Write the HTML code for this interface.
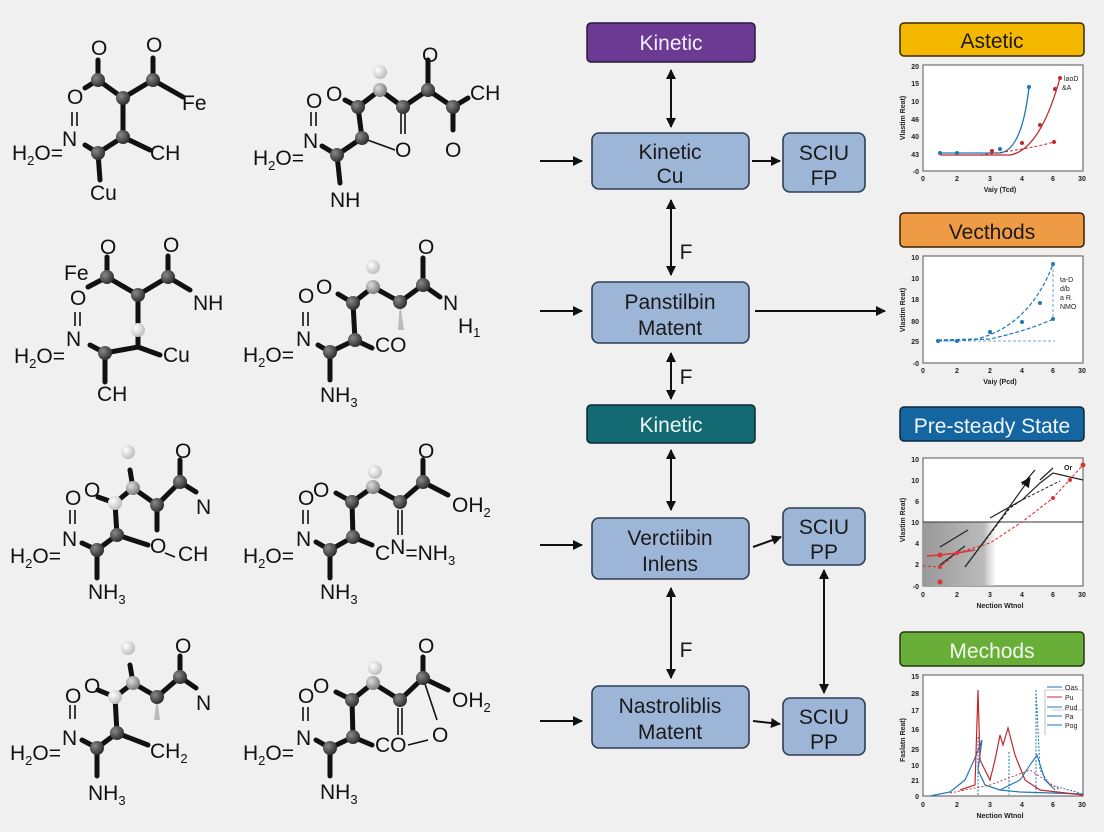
<!DOCTYPE html>
<html><head><meta charset="utf-8"><style>
html,body{margin:0;padding:0;background:#f0f0f0;}
svg{display:block;}
.t{font-family:"Liberation Sans",sans-serif;font-size:21px;fill:#111;}
.s{font-size:13px;}
.bd{stroke:#111;stroke-width:5;stroke-linecap:round;fill:none;}
.thin{stroke:#111;stroke-width:1.6;fill:none;}
.bx{fill:#9db6d8;stroke:#2f3f55;stroke-width:1.6;}
.bt{font-family:"Liberation Sans","DejaVu Sans",sans-serif;font-size:21px;fill:#1a1a1a;text-anchor:middle;}
.ar{stroke:#111;stroke-width:2;fill:none;}
.ax{font-family:"Liberation Sans",sans-serif;font-size:7px;fill:#222;font-weight:bold;}
</style></head><body>
<svg width="1104" height="832" viewBox="0 0 1104 832" xmlns="http://www.w3.org/2000/svg">
<defs>
<radialGradient id="g" cx="0.35" cy="0.35" r="0.7"><stop offset="0" stop-color="#888"/><stop offset="1" stop-color="#2a2a2a"/></radialGradient>
<radialGradient id="w" cx="0.35" cy="0.35" r="0.7"><stop offset="0" stop-color="#fff"/><stop offset="1" stop-color="#bbb"/></radialGradient>
<radialGradient id="l" cx="0.35" cy="0.35" r="0.7"><stop offset="0" stop-color="#ddd"/><stop offset="1" stop-color="#777"/></radialGradient>
<marker id="a" markerWidth="10" markerHeight="10" refX="9" refY="5" orient="auto" markerUnits="userSpaceOnUse"><path d="M0,0 L10,5 L0,10 z" fill="#111"/></marker>
<marker id="as" markerWidth="10" markerHeight="10" refX="1" refY="5" orient="auto" markerUnits="userSpaceOnUse"><path d="M10,0 L0,5 L10,10 z" fill="#111"/></marker>
<linearGradient id="sh" x1="0" x2="1"><stop offset="0" stop-color="#999"/><stop offset="0.85" stop-color="#bbb"/><stop offset="1" stop-color="#ddd" stop-opacity="0.3"/></linearGradient>
</defs>
<rect width="1104" height="832" fill="#f0f0f0"/>

<!-- M1 -->
<g>
<path class="bd" d="M98,80 L123,98 L153,80 L183,97 M123,98 L123,137 L98,153 L85,145 M123,137 L150,150 M98,80 L85,88 M153,80 L153,58 M98,80 L98,60 M98,153 L100,180"/>
<path class="thin" d="M72,112 V126 M77,112 V126"/>
<circle cx="98" cy="80" r="7" fill="url(#g)"/><circle cx="123" cy="98" r="7" fill="url(#g)"/><circle cx="153" cy="80" r="7" fill="url(#g)"/><circle cx="123" cy="137" r="7" fill="url(#g)"/><circle cx="98" cy="153" r="7" fill="url(#g)"/>
<text class="t" x="91" y="55">O</text><text class="t" x="146" y="52">O</text><text class="t" x="182" y="110">Fe</text>
<text class="t" x="67" y="104">O</text><text class="t" x="62" y="146">N</text>
<text class="t" x="12" y="160">H<tspan class="s" dy="5">2</tspan><tspan dy="-5">O=</tspan></text>
<text class="t" x="150" y="160">CH</text><text class="t" x="90" y="200">Cu</text>
</g>
<!-- M2 -->
<g>
<path class="bd" d="M337,155 L362,138 L358,107 L380,90 L403,107 L428,90 L453,107 L468,98 M358,107 L345,100 M428,90 L428,60 M337,155 L322,146 M337,155 L340,183 M453,107 L453,130"/>
<path class="thin" d="M362,138 L395,150 M401,112 V134 M405,112 V134 M311,112 V126 M316,112 V126"/>
<circle cx="380" cy="72" r="7" fill="url(#w)"/>
<circle cx="358" cy="107" r="7" fill="url(#g)"/><circle cx="380" cy="90" r="7" fill="url(#l)"/><circle cx="403" cy="107" r="7" fill="url(#g)"/><circle cx="428" cy="90" r="7" fill="url(#g)"/><circle cx="453" cy="107" r="7" fill="url(#g)"/><circle cx="362" cy="138" r="7" fill="url(#g)"/><circle cx="337" cy="155" r="7" fill="url(#g)"/>
<text class="t" x="422" y="62">O</text><text class="t" x="470" y="100">CH</text><text class="t" x="395" y="157">O</text><text class="t" x="445" y="157">O</text>
<text class="t" x="326" y="101">O</text><text class="t" x="306" y="108">O</text><text class="t" x="303" y="148">N</text>
<text class="t" x="253" y="165">H<tspan class="s" dy="5">2</tspan><tspan dy="-5">O=</tspan></text>
<text class="t" x="330" y="207">NH</text>
</g>
<!-- M3 -->
<g>
<path class="bd" d="M107,277 L138,295 L168,277 L190,290 M138,295 L138,347 L105,353 L90,345 M138,347 L160,355 M107,277 L88,287 M107,277 L107,257 M168,277 L168,256 M105,353 L105,382"/>
<path class="thin" d="M75,312 V326 M80,312 V326"/>
<circle cx="107" cy="277" r="7" fill="url(#g)"/><circle cx="138" cy="295" r="7" fill="url(#g)"/><circle cx="168" cy="277" r="7" fill="url(#g)"/><circle cx="138" cy="330" r="7" fill="url(#w)"/><circle cx="105" cy="353" r="7" fill="url(#g)"/>
<text class="t" x="100" y="254">O</text><text class="t" x="163" y="252">O</text><text class="t" x="64" y="280">Fe</text><text class="t" x="70" y="305">O</text><text class="t" x="66" y="346">N</text>
<text class="t" x="14" y="363">H<tspan class="s" dy="5">2</tspan><tspan dy="-5">O=</tspan></text>
<text class="t" x="193" y="310">NH</text><text class="t" x="163" y="362">Cu</text><text class="t" x="97" y="401">CH</text>
</g>
<!-- M4 -->
<g>
<path class="bd" d="M353,303 L373,287 L400,302 L423,285 L440,297 M353,303 L355,340 L330,352 L318,345 M355,340 L372,348 M353,303 L338,294 M423,285 L423,258 M330,352 L330,380"/>
<path class="thin" d="M303,312 V326 M308,312 V326"/>
<path d="M400,302 L404,330 L398,330 z" fill="#bbb"/>
<circle cx="373" cy="267" r="7" fill="url(#w)"/>
<circle cx="353" cy="303" r="7" fill="url(#g)"/><circle cx="373" cy="287" r="7" fill="url(#l)"/><circle cx="400" cy="302" r="7" fill="url(#g)"/><circle cx="423" cy="285" r="7" fill="url(#g)"/><circle cx="355" cy="340" r="7" fill="url(#g)"/><circle cx="330" cy="352" r="7" fill="url(#g)"/>
<text class="t" x="418" y="254">O</text><text class="t" x="443" y="310">N</text><text class="t" x="458" y="333">H<tspan class="s" dy="4">1</tspan></text>
<text class="t" x="316" y="294">O</text><text class="t" x="298" y="303">O</text><text class="t" x="296" y="346">N</text>
<text class="t" x="243" y="362">H<tspan class="s" dy="5">2</tspan><tspan dy="-5">O=</tspan></text>
<text class="t" x="375" y="352">CO</text><text class="t" x="320" y="402">NH<tspan class="s" dy="5">3</tspan></text>
</g>
<!-- M5 -->
<g>
<path class="bd" d="M115,503 L133,488 L157,505 L180,482 L196,492 M115,503 L117,535 L97,550 L82,543 M157,505 L157,530 M117,535 L148,545 M115,503 L98,497 M180,482 L180,460 M97,550 L97,578 M133,488 L130,470"/>
<path class="thin" d="M70,510 V524 M75,510 V524 M165,553 L175,557"/>
<circle cx="128" cy="452" r="7" fill="url(#w)"/>
<circle cx="115" cy="503" r="7" fill="url(#w)"/><circle cx="133" cy="488" r="7" fill="url(#l)"/><circle cx="157" cy="505" r="7" fill="url(#g)"/><circle cx="180" cy="482" r="7" fill="url(#g)"/><circle cx="117" cy="535" r="7" fill="url(#g)"/><circle cx="97" cy="550" r="7" fill="url(#g)"/>
<text class="t" x="175" y="458">O</text><text class="t" x="196" y="514">N</text><text class="t" x="84" y="497">O</text><text class="t" x="65" y="505">O</text><text class="t" x="62" y="546">N</text>
<text class="t" x="10" y="563">H<tspan class="s" dy="5">2</tspan><tspan dy="-5">O=</tspan></text>
<text class="t" x="150" y="553">O</text><text class="t" x="178" y="561">CH</text><text class="t" x="88" y="599">NH<tspan class="s" dy="5">3</tspan></text>
</g>
<!-- M6 -->
<g>
<path class="bd" d="M352,502 L373,487 L400,502 L423,482 L448,495 M352,502 L353,537 L330,550 L316,542 M353,537 L372,545 M352,502 L336,493 M423,482 L423,460 M330,550 L330,578"/>
<path class="thin" d="M398,510 V535 M402,510 V535 M303,510 V524 M308,510 V524"/>
<circle cx="375" cy="472" r="7" fill="url(#w)"/>
<circle cx="352" cy="502" r="7" fill="url(#g)"/><circle cx="373" cy="487" r="7" fill="url(#l)"/><circle cx="400" cy="502" r="7" fill="url(#g)"/><circle cx="423" cy="482" r="7" fill="url(#g)"/><circle cx="353" cy="537" r="7" fill="url(#g)"/><circle cx="330" cy="550" r="7" fill="url(#g)"/>
<text class="t" x="418" y="458">O</text><text class="t" x="452" y="512">OH<tspan class="s" dy="5">2</tspan></text>
<text class="t" x="313" y="497">O</text><text class="t" x="298" y="505">O</text><text class="t" x="296" y="546">N</text>
<text class="t" x="243" y="563">H<tspan class="s" dy="5">2</tspan><tspan dy="-5">O=</tspan></text>
<text class="t" x="375" y="560">C<tspan dy="-6">N</tspan><tspan dy="6">=NH</tspan><tspan class="s" dy="5">3</tspan></text>
<text class="t" x="320" y="599">NH<tspan class="s" dy="5">3</tspan></text>
</g>
<!-- M7 -->
<g>
<path class="bd" d="M115,697 L133,683 L157,697 L180,677 L196,688 M115,697 L117,733 L97,748 L82,740 M117,733 L148,745 M115,697 L98,690 M180,677 L180,656 M97,748 L97,776 M133,683 L130,665"/>
<path class="thin" d="M70,705 V719 M75,705 V719"/>
<path d="M157,697 L160,720 L154,720 z" fill="#bbb"/>
<circle cx="128" cy="648" r="7" fill="url(#w)"/>
<circle cx="115" cy="697" r="7" fill="url(#w)"/><circle cx="133" cy="683" r="7" fill="url(#l)"/><circle cx="157" cy="697" r="7" fill="url(#g)"/><circle cx="180" cy="677" r="7" fill="url(#g)"/><circle cx="117" cy="733" r="7" fill="url(#g)"/><circle cx="97" cy="748" r="7" fill="url(#g)"/>
<text class="t" x="175" y="653">O</text><text class="t" x="196" y="710">N</text><text class="t" x="84" y="693">O</text><text class="t" x="65" y="703">O</text><text class="t" x="62" y="745">N</text>
<text class="t" x="10" y="760">H<tspan class="s" dy="5">2</tspan><tspan dy="-5">O=</tspan></text>
<text class="t" x="150" y="758">CH<tspan class="s" dy="5">2</tspan></text><text class="t" x="88" y="800">NH<tspan class="s" dy="5">3</tspan></text>
</g>
<!-- M8 -->
<g>
<path class="bd" d="M352,700 L373,683 L400,700 L423,678 L448,690 M352,700 L353,737 L330,748 L316,740 M353,737 L372,745 M352,700 L336,692 M423,678 L423,657 M330,748 L330,776"/>
<path class="thin" d="M398,708 V735 M402,708 V735 M303,707 V721 M308,707 V721 M423,678 L437,720 M408,745 L428,740"/>
<circle cx="375" cy="668" r="7" fill="url(#w)"/>
<circle cx="352" cy="700" r="7" fill="url(#g)"/><circle cx="373" cy="683" r="7" fill="url(#l)"/><circle cx="400" cy="700" r="7" fill="url(#g)"/><circle cx="423" cy="678" r="7" fill="url(#g)"/><circle cx="353" cy="737" r="7" fill="url(#g)"/><circle cx="330" cy="748" r="7" fill="url(#g)"/>
<text class="t" x="418" y="653">O</text><text class="t" x="452" y="707">OH<tspan class="s" dy="5">2</tspan></text>
<text class="t" x="313" y="693">O</text><text class="t" x="298" y="703">O</text><text class="t" x="296" y="745">N</text>
<text class="t" x="243" y="760">H<tspan class="s" dy="5">2</tspan><tspan dy="-5">O=</tspan></text>
<text class="t" x="375" y="752">CO</text><text class="t" x="432" y="742">O</text>
<text class="t" x="320" y="799">NH<tspan class="s" dy="5">3</tspan></text>
</g>

<!-- center flow -->
<rect x="587" y="23" width="168" height="39" rx="4" fill="#6b3a93" stroke="#2a1a3a" stroke-width="1.5"/>
<text class="bt" x="671" y="50" fill="#f4eefa" style="fill:#f4eefa">Kinetic</text>
<rect class="bx" x="592" y="133" width="157" height="56" rx="7"/>
<text class="bt" x="670" y="159">Kinetic</text><text class="bt" x="670" y="183">Cu</text>
<rect class="bx" x="783" y="133" width="82" height="59" rx="7"/>
<text class="bt" x="824" y="160">SCIU</text><text class="bt" x="824" y="185">FP</text>
<rect class="bx" x="592" y="282" width="157" height="61" rx="7"/>
<text class="bt" x="670" y="309">Panstilbin</text><text class="bt" x="670" y="335">Matent</text>
<rect x="587" y="405" width="168" height="38" rx="4" fill="#136a72" stroke="#0a2a30" stroke-width="1.5"/>
<text class="bt" x="671" y="432" style="fill:#eef8f8">Kinetic</text>
<rect class="bx" x="592" y="518" width="157" height="61" rx="7"/>
<text class="bt" x="670" y="545">Verctiibin</text><text class="bt" x="670" y="571">Inlens</text>
<rect class="bx" x="783" y="508" width="82" height="57" rx="7"/>
<text class="bt" x="824" y="534">SCIU</text><text class="bt" x="824" y="559">PP</text>
<rect class="bx" x="592" y="686" width="157" height="62" rx="7"/>
<text class="bt" x="670" y="713">Nastroliblis</text><text class="bt" x="670" y="739">Matent</text>
<rect class="bx" x="783" y="698" width="82" height="57" rx="7"/>
<text class="bt" x="824" y="724">SCIU</text><text class="bt" x="824" y="749">PP</text>

<g class="ar">
<line x1="540" y1="161" x2="582" y2="161" marker-end="url(#a)"/>
<line x1="540" y1="311" x2="582" y2="311" marker-end="url(#a)"/>
<line x1="540" y1="545" x2="582" y2="545" marker-end="url(#a)"/>
<line x1="540" y1="721" x2="582" y2="721" marker-end="url(#a)"/>
<line x1="671" y1="70" x2="671" y2="127" marker-start="url(#as)" marker-end="url(#a)"/>
<line x1="671" y1="200" x2="671" y2="275" marker-start="url(#as)" marker-end="url(#a)"/>
<line x1="671" y1="353" x2="671" y2="399" marker-start="url(#as)" marker-end="url(#a)"/>
<line x1="671" y1="450" x2="671" y2="510" marker-start="url(#as)" marker-end="url(#a)"/>
<line x1="671" y1="588" x2="671" y2="678" marker-start="url(#as)" marker-end="url(#a)"/>
<line x1="824" y1="570" x2="824" y2="693" marker-start="url(#as)" marker-end="url(#a)"/>
<line x1="752" y1="161" x2="780" y2="161" marker-end="url(#a)"/>
<line x1="755" y1="311" x2="885" y2="311" marker-end="url(#a)"/>
<line x1="753" y1="547" x2="781" y2="537" marker-end="url(#a)"/>
<line x1="753" y1="721" x2="780" y2="724" marker-end="url(#a)"/>
</g>
<text class="bt" x="686" y="259">F</text><text class="bt" x="686" y="384">F</text><text class="bt" x="686" y="657">F</text>

<!-- right headers -->
<rect x="900" y="23" width="184" height="33" rx="4" fill="#f5b800" stroke="#3a2a00" stroke-width="1.5"/>
<text class="bt" x="992" y="48">Astetic</text>
<rect x="900" y="213" width="184" height="34" rx="4" fill="#ef9a45" stroke="#3a2000" stroke-width="1.5"/>
<text class="bt" x="992" y="239">Vecthods</text>
<rect x="900" y="407" width="184" height="34" rx="4" fill="#1565a0" stroke="#0a2a40" stroke-width="1.5"/>
<text class="bt" x="992" y="433" style="fill:#f0f6fb">Pre-steady State</text>
<rect x="900" y="632" width="184" height="34" rx="4" fill="#6aae3a" stroke="#203a10" stroke-width="1.5"/>
<text class="bt" x="992" y="658" style="fill:#f2faee">Mechods</text>

<!-- chart 1 -->
<g>
<rect x="923" y="65" width="160" height="106" fill="#fff" stroke="#555" stroke-width="1"/>
<g class="ax" text-anchor="end"><text x="919" y="69">20</text><text x="919" y="86">15</text><text x="919" y="104">10</text><text x="919" y="122">46</text><text x="919" y="139">40</text><text x="919" y="157">43</text><text x="919" y="174">-0</text></g>
<g class="ax" text-anchor="middle"><text x="923" y="181">0</text><text x="957" y="181">2</text><text x="990" y="181">3</text><text x="1022" y="181">4</text><text x="1053" y="181">6</text><text x="1082" y="181">30</text><text x="1000" y="192">Vaiy (Tcd)</text></g>
<text class="ax" transform="translate(905,118) rotate(-90)" text-anchor="middle">Vlastim Reat)</text>
<path d="M940,153 L1000,153 Q1022,150 1029,87" stroke="#1f77b4" stroke-width="1.3" fill="none"/>
<path d="M940,155 L1010,155 Q1040,150 1060,78" stroke="#c0282d" stroke-width="1.3" fill="none"/>
<path d="M980,155 Q1025,150 1054,142" stroke="#c0282d" stroke-width="1" stroke-dasharray="3,2" fill="none"/>
<g fill="#c0282d"><circle cx="1040" cy="125" r="2"/><circle cx="1054" cy="142" r="2"/><circle cx="1060" cy="78" r="2"/><circle cx="1055" cy="89" r="2"/><circle cx="1022" cy="143" r="2"/><circle cx="992" cy="151" r="2"/></g>
<g fill="#1f77b4"><circle cx="1029" cy="87" r="2"/><circle cx="940" cy="153" r="2"/><circle cx="957" cy="153" r="2"/><circle cx="1000" cy="149" r="2"/></g>
<text class="ax" x="1064" y="81" style="font-weight:normal">laoD</text><text class="ax" x="1062" y="90" style="font-weight:normal">&amp;A</text>
</g>
<!-- chart 2 -->
<g>
<rect x="923" y="256" width="160" height="107" fill="#fff" stroke="#555" stroke-width="1"/>
<g class="ax" text-anchor="end"><text x="919" y="260">10</text><text x="919" y="281">10</text><text x="919" y="302">18</text><text x="919" y="324">80</text><text x="919" y="344">25</text><text x="919" y="366">-0</text></g>
<g class="ax" text-anchor="middle"><text x="923" y="373">0</text><text x="957" y="373">2</text><text x="990" y="373">2</text><text x="1022" y="373">4</text><text x="1053" y="373">6</text><text x="1082" y="373">30</text><text x="1000" y="384">Vaiy (Pcd)</text></g>
<text class="ax" transform="translate(905,310) rotate(-90)" text-anchor="middle">Vlastim Reat)</text>
<path d="M938,340 L977,339 Q1030,325 1053,264" stroke="#1f77b4" stroke-width="1.2" stroke-dasharray="4,2" fill="none"/>
<path d="M938,341 L990,339 Q1030,330 1053,319" stroke="#1f77b4" stroke-width="1.2" stroke-dasharray="4,2" fill="none"/>
<path d="M938,341 L1055,341 M1053,264 V319" stroke="#4a8cc0" stroke-width="0.8" stroke-dasharray="3,2" fill="none"/>
<g fill="#1f77b4"><circle cx="938" cy="341" r="2"/><circle cx="957" cy="341" r="2"/><circle cx="990" cy="332" r="2"/><circle cx="1022" cy="322" r="2"/><circle cx="1040" cy="303" r="2"/><circle cx="1053" cy="264" r="2"/><circle cx="1053" cy="319" r="2"/></g>
<text class="ax" x="1060" y="282" style="font-weight:normal">ta-D</text><text class="ax" x="1060" y="291" style="font-weight:normal">d/b</text><text class="ax" x="1060" y="300" style="font-weight:normal">a R.</text><text class="ax" x="1060" y="309" style="font-weight:normal">NMO</text>
</g>
<!-- chart 3 -->
<g>
<rect x="923" y="458" width="160" height="128" fill="#fff" stroke="#555" stroke-width="1"/>
<rect x="923" y="522" width="72" height="64" fill="url(#sh)"/>
<line x1="923" y1="522" x2="1083" y2="522" stroke="#333" stroke-width="1"/>
<g class="ax" text-anchor="end"><text x="919" y="462">10</text><text x="919" y="483">10</text><text x="919" y="504">6</text><text x="919" y="525">10</text><text x="919" y="546">4</text><text x="919" y="567">2</text><text x="919" y="589">-0</text></g>
<g class="ax" text-anchor="middle"><text x="923" y="597">0</text><text x="957" y="597">2</text><text x="990" y="597">3</text><text x="1022" y="597">4</text><text x="1053" y="597">6</text><text x="1082" y="597">30</text><text x="1000" y="608">Nection Wtnol</text></g>
<text class="ax" transform="translate(905,520) rotate(-90)" text-anchor="middle">Vlastim Reat)</text>
<path d="M940,565 L965,546 M990,518 L1022,500 L1040,483 L1053,473 L1083,480" stroke="#222" stroke-width="1.2" fill="none"/>
<path d="M940,547 L968,530 M1022,485 L1035,470 M1040,480 L1053,468 M965,567 L1000,520 L1030,478" stroke="#222" stroke-width="1.2" fill="none" marker-end="url(#a)"/>
<path d="M965,567 L1010,508 L1022,500 L1060,481" stroke="#222" stroke-width="1" stroke-dasharray="3,2" fill="none"/>
<path d="M923,566 L940,567 L957,553 L990,543 L1022,522 L1053,498 L1083,465" stroke="#d33" stroke-width="1.1" stroke-dasharray="3,2" fill="none"/>
<path d="M927,556 L940,555 L957,553 L975,550" stroke="#d33" stroke-width="1.6" fill="none"/>
<g fill="#d33"><circle cx="940" cy="555" r="2.5"/><circle cx="957" cy="553" r="2"/><circle cx="940" cy="582" r="2.5"/><circle cx="1053" cy="498" r="2"/><circle cx="1070" cy="480" r="2"/><circle cx="1083" cy="465" r="2.5"/><circle cx="940" cy="567" r="2"/></g>
<text class="ax" x="1064" y="470">Or</text>
</g>
<!-- chart 4 -->
<g>
<rect x="923" y="675" width="160" height="121" fill="#fff" stroke="#555" stroke-width="1"/>
<g class="ax" text-anchor="end"><text x="919" y="679">15</text><text x="919" y="696">28</text><text x="919" y="713">17</text><text x="919" y="732">16</text><text x="919" y="752">25</text><text x="919" y="768">10</text><text x="919" y="783">21</text><text x="919" y="799">0</text></g>
<g class="ax" text-anchor="middle"><text x="923" y="807">0</text><text x="957" y="807">2</text><text x="990" y="807">3</text><text x="1022" y="807">4</text><text x="1053" y="807">6</text><text x="1082" y="807">30</text><text x="1000" y="818">Nection Wtnol</text></g>
<text class="ax" transform="translate(905,740) rotate(-90)" text-anchor="middle">Faslatn Reat)</text>
<path d="M930,796 L950,792 L965,780 L975,758 L982,740 L978,770 L985,785 L1000,790 L1020,792 L1083,794" stroke="#1f77b4" stroke-width="1.2" fill="none"/>
<path d="M978,737 L978,795 M1009,752 L1009,795 M1036,690 L1036,795 M1036,690 L1040,770 L1050,785 L1080,793" stroke="#1f77b4" stroke-width="1" stroke-dasharray="2,1.5" fill="none"/>
<path d="M960,790 L975,785 L978,690 L980,760 L990,780 L995,760 L1000,735 L1003,745 L1008,728 L1015,755 L1025,780 L1040,790 L1083,795" stroke="#c0282d" stroke-width="1.2" fill="none"/>
<path d="M950,793 L990,785 L1030,770 L1060,790" stroke="#c0282d" stroke-width="0.9" stroke-dasharray="2,2" fill="none"/>
<path d="M1000,790 L1020,780 L1030,765 L1037,755 L1045,780 L1055,790" stroke="#1f77b4" stroke-width="1.1" fill="none"/>
<path d="M1045,690 L1083,690 M1045,690 V735 M1052,710 L1083,710" stroke="#999" stroke-width="0.6" fill="none"/>
<g class="ax" style="font-weight:normal"><text x="1065" y="690">Oas</text><text x="1065" y="700">Pu</text><text x="1065" y="710">Pud</text><text x="1065" y="719">Pa</text><text x="1065" y="728">Pog</text></g>
<path d="M1047,687 H1062 M1047,697 H1062 M1047,707 H1062 M1047,716 H1062 M1047,725 H1062" stroke="#1f77b4" stroke-width="1"/>
<path d="M1047,697 H1062" stroke="#c0282d" stroke-width="1"/>
</g>
</svg>
</body></html>
